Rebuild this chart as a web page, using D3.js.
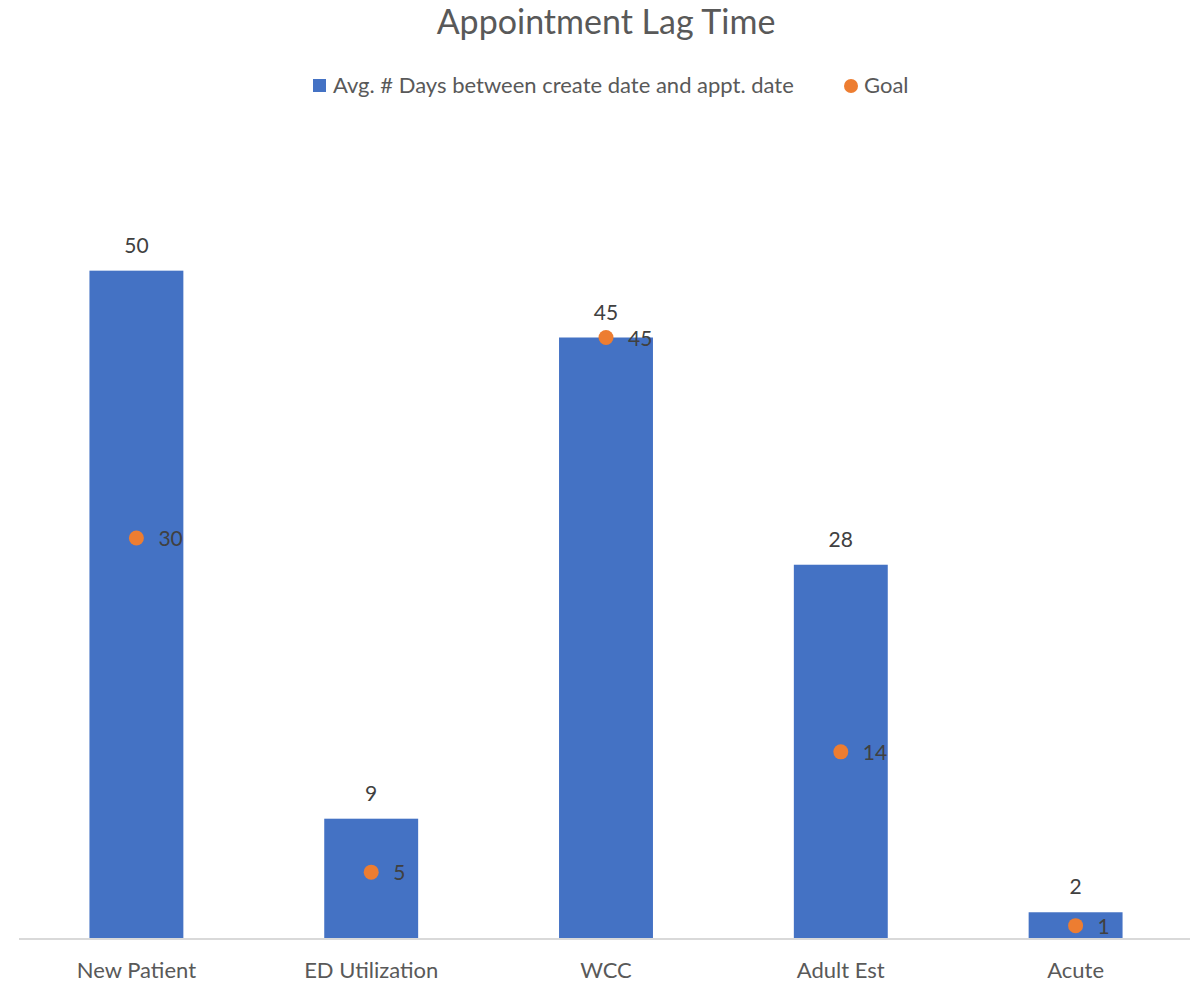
<!DOCTYPE html>
<html>
<head>
<meta charset="utf-8">
<script src="https://cdn.jsdelivr.net/npm/d3@7"></script>
<style>
  body { margin: 0; background: #fff; }
  text { font-family: Lato, "Open Sans", sans-serif; }
</style>
</head>
<body>
<script>
var categories = ["New Patient", "ED Utilization", "WCC", "Adult Est", "Acute"];
var avgDays = [50, 9, 45, 28, 2];
var goals = [30, 5, 45, 14, 1];
var seriesNames = ["Avg. # Days between create date and appt. date", "Goal"];

var width = 1195;
var height = 982;
var margin = {left: 19, right: 2, top: 137, bottom: 43};

var svg = d3.select("body").append("svg")
    .attr("width", width)
    .attr("height", height);

var xScale = d3.scaleBand()
    .domain(categories)
    .range([margin.left, width - margin.right])
    .paddingInner(0.6)
    .paddingOuter(0.3);

var yScale = d3.scaleLinear()
    .domain([0, 60])
    .range([height - margin.bottom, margin.top]);

// title
svg.append("text")
    .text("Appointment Lag Time")
    .attr("x", 606)
    .attr("y", 34)
    .attr("text-anchor", "middle")
    .attr("font-size", 34)
    .attr("fill", "#595959");

// legend
var legend = svg.append("g").attr("font-size", 22).attr("fill", "#595959");
legend.append("rect")
    .attr("x", 313).attr("y", 79)
    .attr("width", 13).attr("height", 13)
    .attr("fill", "#4472C4");
legend.append("text")
    .text(seriesNames[0])
    .attr("x", 333).attr("y", 93);
legend.append("circle")
    .attr("cx", 851).attr("cy", 86).attr("r", 7)
    .attr("fill", "#ED7D31");
legend.append("text")
    .text(seriesNames[1])
    .attr("x", 864).attr("y", 93);

var data = categories.map(function(c, i){
    return {cat: c, value: avgDays[i], goal: goals[i]};
});

// bars
svg.append("g")
    .selectAll("rect")
    .data(data)
    .enter()
    .append("rect")
    .attr("x", function(d){ return xScale(d.cat); })
    .attr("y", function(d){ return yScale(d.value); })
    .attr("width", xScale.bandwidth())
    .attr("height", function(d){ return yScale(0) - yScale(d.value); })
    .attr("fill", "#4472C4");

// axis
var xAxis = svg.append("g")
    .attr("transform", "translate(0," + yScale(0) + ")")
    .call(d3.axisBottom(xScale).tickSize(0).tickPadding(23));
xAxis.select(".domain")
    .attr("stroke", "#D9D9D9")
    .attr("stroke-width", 2)
    .attr("d", "M" + margin.left + ",0H" + (width - 5));
xAxis.selectAll(".tick text")
    .attr("font-family", "Lato, 'Open Sans', sans-serif")
    .attr("font-size", 22)
    .attr("fill", "#595959");

// bar labels
svg.append("g")
    .selectAll("text")
    .data(data)
    .enter()
    .append("text")
    .text(function(d){ return d.value; })
    .attr("x", function(d){ return xScale(d.cat) + xScale.bandwidth() / 2; })
    .attr("y", function(d){ return yScale(d.value) - 18; })
    .attr("text-anchor", "middle")
    .attr("font-size", 21)
    .attr("fill", "#404040");

// goal points
svg.append("g")
    .selectAll("circle")
    .data(data)
    .enter()
    .append("circle")
    .attr("cx", function(d){ return xScale(d.cat) + xScale.bandwidth() / 2; })
    .attr("cy", function(d){ return yScale(d.goal); })
    .attr("r", 7.5)
    .attr("fill", "#ED7D31");

svg.append("g")
    .selectAll("text")
    .data(data)
    .enter()
    .append("text")
    .text(function(d){ return d.goal; })
    .attr("x", function(d){ return xScale(d.cat) + xScale.bandwidth() / 2 + 22; })
    .attr("y", function(d){ return yScale(d.goal) + 8; })
    .attr("font-size", 21)
    .attr("fill", "#404040");
</script>
</body>
</html>
